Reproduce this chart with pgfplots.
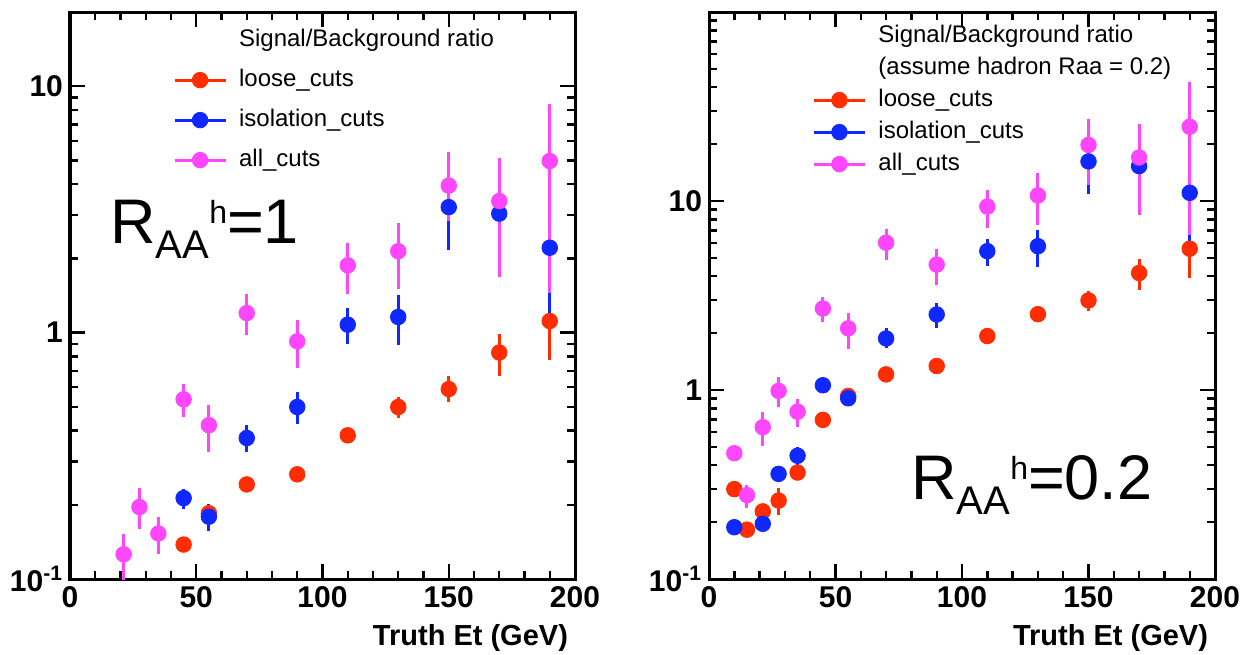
\documentclass[border=0pt]{standalone}
\usepackage{fontspec}
\setmainfont{Liberation Sans}
\usepackage{pgfplots}
\usepackage{pgfplotstable}
\pgfplotsset{compat=1.18}
\definecolor{cred}{RGB}{255,45,0}
\definecolor{cblue}{RGB}{15,40,255}
\definecolor{cpink}{RGB}{255,70,255}

% ---------------- left panel (R_AA^h = 1) ----------------
\pgfplotstableread{
x y ep em
45 0.138 0 0
55 0.185 0 0
70 0.242 0 0
90 0.266 0 0
110 0.383 0 0
130 0.499 0.049 0.047
150 0.590 0.075 0.067
170 0.830 0.161 0.165
190 1.114 0.34 0.337
}\Lred
\pgfplotstableread{
x y ep em
45 0.213 0.020 0.020
55 0.179 0.023 0.022
70 0.3735 0.0475 0.0455
90 0.499 0.075 0.075
110 1.077 0.183 0.175
130 1.157 0.263 0.263
150 3.23 1.0 1.06
170 3.04 1.2 1.36
190 2.21 1.18 1.17
}\Lblue
\pgfplotstableread{
x y ep em
21.25 0.126 0.026 0.036
27.5 0.196 0.038 0.037
35 0.153 0.026 0.027
45 0.536 0.085 0.081
55 0.421 0.086 0.093
70 1.20 0.23 0.225
90 0.922 0.208 0.204
110 1.875 0.435 0.445
130 2.14 0.64 0.64
150 3.95 1.45 1.1
170 3.42 1.71 1.74
190 4.97 3.53 3.52
}\Lpink
% ---------------- right panel (R_AA^h = 0.2) ----------------
\pgfplotstableread{
x y ep em
10 0.299 0 0
15 0.1825 0 0
21.25 0.228 0 0
27.5 0.26 0.043 0.041
35 0.366 0 0
45 0.695 0 0
55 0.93 0 0
70 1.21 0 0
90 1.34 0 0
110 1.93 0 0
130 2.52 0 0
150 2.98 0.36 0.36
170 4.16 0.79 0.79
190 5.59 1.12 1.66
}\Rred
\pgfplotstableread{
x y ep em
10 0.188 0 0
21.25 0.196 0.01 0.01
27.5 0.36 0 0
35 0.449 0.053 0.047
45 1.06 0 0
55 0.904 0.076 0.064
70 1.875 0.245 0.215
90 2.51 0.38 0.37
110 5.43 0.89 0.90
130 5.77 1.28 1.30
150 16.2 5 5.3
170 15.3 5 6.9
190 11.05 5.95 5.68
}\Rblue
\pgfplotstableread{
x y ep em
10 0.463 0 0
15 0.278 0.037 0.040
21.25 0.636 0.127 0.128
27.5 0.99 0.177 0.18
35 0.768 0.128 0.132
45 2.70 0.4 0.41
55 2.12 0.44 0.47
70 6.02 1.11 1.17
90 4.61 0.98 1.03
110 9.35 2.15 2.16
130 10.7 3.3 3.21
150 19.8 7.3 7.7
170 17.0 8.7 8.6
190 24.7 18.0 18.1
}\Rpink

\newcommand{\legimg}{\draw[line width=1.5pt] (0pt,0pt) -- (25.5pt,0pt); \fill (12.75pt,0pt) circle (3.9pt);}

\begin{document}
\begin{tikzpicture}
\path[use as bounding box] (0,0) rectangle (622.5pt,-327pt);

\begin{axis}[scale only axis, anchor=south west, at={(35pt,-289.5pt)}, width=252.5pt, height=283.5pt,
  xmin=0, xmax=200, ymode=log, ymin=0.1, ymax=20,
  xtick={0,50,100,150,200}, xticklabels={0,50,100,150,200},
  minor xtick={10,20,30,40,60,70,80,90,110,120,130,140,160,170,180,190},
  ytick={0.1,1,10}, yticklabels={10\textsuperscript{-1},1,10},
  minor ytick={0.2,0.3,0.4,0.5,0.6,0.7,0.8,0.9,2,3,4,5,6,7,8,9,20},
  tick align=inside, major tick length=7.5pt, minor tick length=4pt,
  axis line style={line width=1.5pt},
  every tick/.style={black, line width=1.2pt},
  tick label style={font=\fontsize{15}{15}\selectfont\bfseries},
  xlabel={Truth Et (GeV)},
  xlabel style={font=\fontsize{14.5}{14.5}\selectfont\bfseries, at={(axis description cs:1,0)}, anchor=base east, yshift=-33pt},
  legend cell align=left,
  legend style={at={(axis description cs:0.2034,0.9723)}, anchor=north west, draw=none, fill=none,
    font=\fontsize{12}{12}\selectfont, row sep=8pt, column sep=6pt, inner sep=0pt,
    nodes={inner sep=0pt, text height=9pt, text depth=3pt}},
]
\addlegendimage{empty legend}\addlegendentry{Signal/Background ratio}
\addplot[only marks, mark=*, mark size=3.9pt, color=cred, legend image code/.code={\legimg},
  error bars/.cd, y dir=both, y explicit, error mark=none, error bar style={line width=1.5pt,cred}]
  table[x=x, y=y, y error plus=ep, y error minus=em] {\Lred};
\addlegendentry{loose\_cuts}
\addplot[only marks, mark=*, mark size=3.9pt, color=cblue, legend image code/.code={\legimg},
  error bars/.cd, y dir=both, y explicit, error mark=none, error bar style={line width=1.5pt,cblue}]
  table[x=x, y=y, y error plus=ep, y error minus=em] {\Lblue};
\addlegendentry{isolation\_cuts}
\addplot[only marks, mark=*, mark size=3.9pt, color=cpink, legend image code/.code={\legimg},
  error bars/.cd, y dir=both, y explicit, error mark=none, error bar style={line width=1.5pt,cpink}]
  table[x=x, y=y, y error plus=ep, y error minus=em] {\Lpink};
\addlegendentry{all\_cuts}
\end{axis}

\begin{axis}[scale only axis, anchor=south west, at={(354.5pt,-289.5pt)}, width=253pt, height=283.5pt,
  xmin=0, xmax=200, ymode=log, ymin=0.1, ymax=100,
  xtick={0,50,100,150,200}, xticklabels={0,50,100,150,200},
  minor xtick={10,20,30,40,60,70,80,90,110,120,130,140,160,170,180,190},
  ytick={0.1,1,10}, yticklabels={10\textsuperscript{-1},1,10},
  minor ytick={0.2,0.3,0.4,0.5,0.6,0.7,0.8,0.9,2,3,4,5,6,7,8,9,20,30,40,50,60,70,80,90},
  tick align=inside, major tick length=7.5pt, minor tick length=4pt,
  axis line style={line width=1.5pt},
  every tick/.style={black, line width=1.2pt},
  tick label style={font=\fontsize{15}{15}\selectfont\bfseries},
  xlabel={Truth Et (GeV)},
  xlabel style={font=\fontsize{14.5}{14.5}\selectfont\bfseries, at={(axis description cs:1,0)}, anchor=base east, yshift=-33pt},
  legend cell align=left,
  legend style={at={(axis description cs:0.2036,0.9794)}, anchor=north west, draw=none, fill=none,
    font=\fontsize{12}{12}\selectfont, row sep=4pt, column sep=6pt, inner sep=0pt,
    nodes={inner sep=0pt, text height=9pt, text depth=3pt}},
]
\addlegendimage{empty legend}\addlegendentry{Signal/Background ratio}
\addlegendimage{empty legend}\addlegendentry{(assume hadron Raa = 0.2)}
\addplot[only marks, mark=*, mark size=3.9pt, color=cred, legend image code/.code={\legimg},
  error bars/.cd, y dir=both, y explicit, error mark=none, error bar style={line width=1.5pt,cred}]
  table[x=x, y=y, y error plus=ep, y error minus=em] {\Rred};
\addlegendentry{loose\_cuts}
\addplot[only marks, mark=*, mark size=3.9pt, color=cblue, legend image code/.code={\legimg},
  error bars/.cd, y dir=both, y explicit, error mark=none, error bar style={line width=1.5pt,cblue}]
  table[x=x, y=y, y error plus=ep, y error minus=em] {\Rblue};
\addlegendentry{isolation\_cuts}
\addplot[only marks, mark=*, mark size=3.9pt, color=cpink, legend image code/.code={\legimg},
  error bars/.cd, y dir=both, y explicit, error mark=none, error bar style={line width=1.5pt,cpink}]
  table[x=x, y=y, y error plus=ep, y error minus=em] {\Rpink};
\addlegendentry{all\_cuts}
\end{axis}

\node[anchor=base west, inner sep=0pt] at (55pt,-121.5pt)
  {\fontsize{31.5}{31.5}\selectfont R\raisebox{-7.5pt}{\fontsize{20}{20}\selectfont AA}\raisebox{10pt}{\fontsize{16}{16}\selectfont h}=1};
\node[anchor=base west, inner sep=0pt] at (455.5pt,-249.5pt)
  {\fontsize{31.5}{31.5}\selectfont R\raisebox{-7.5pt}{\fontsize{20}{20}\selectfont AA}\raisebox{10pt}{\fontsize{16}{16}\selectfont h}=0.2};
\end{tikzpicture}
\end{document}
